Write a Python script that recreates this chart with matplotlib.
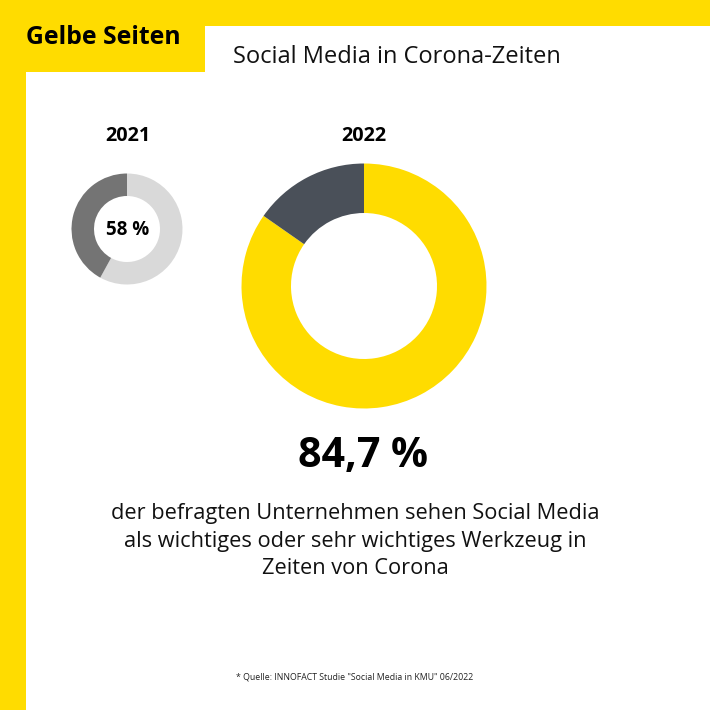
import numpy as np
import matplotlib.pyplot as plt
from matplotlib.patches import Rectangle

plt.rcParams['font.family'] = ['Open Sans', 'DejaVu Sans']

yellow = '#ffdc00'
# values of the two rings
share_2021 = np.array([58, 42])
share_2022 = np.array([84.7, 15.3])

fig, ax = plt.subplots(figsize=(7.1, 7.1), dpi=100)
ax.set_position([0, 0, 1, 1])

# yellow frame
ax.add_patch(Rectangle((0, 0), 26, 710, color=yellow, lw=0))
ax.add_patch(Rectangle((0, 684), 710, 26, color=yellow, lw=0))
ax.add_patch(Rectangle((0, 638), 204.5, 72, color=yellow, lw=0))

ax.pie(share_2021, colors=['#d9d9d9', '#747474'], startangle=90, counterclock=False,
       radius=55.5, center=(127, 481), wedgeprops=dict(width=22.5, lw=0), frame=True)
ax.pie(share_2022, colors=[yellow, '#4a5059'], startangle=90, counterclock=False,
       radius=122.5, center=(364, 424), wedgeprops=dict(width=49.5, lw=0), frame=True)

ax.set_xlim(0, 710)
ax.set_ylim(0, 710)
ax.axis('off')

ax.text(26, 672, 'Gelbe Seiten', fontsize=17.8, fontweight='bold', color='black', va='center', ha='left')
ax.text(233, 653, 'Social Media in Corona-Zeiten', fontsize=17, color='#111111', va='center', ha='left')
ax.text(128, 574, '2021', fontsize=14.3, fontweight='bold', color='black', va='center', ha='center')
ax.text(364, 574, '2022', fontsize=14.3, fontweight='bold', color='black', va='center', ha='center')
ax.text(128, 480, '58 %', fontsize=13.5, fontweight='bold', color='black', va='center', ha='center')
ax.text(363, 254, '84,7 %', fontsize=29.6, fontweight='bold', color='black', va='center', ha='center')

ax.text(355, 197, 'der befragten Unternehmen sehen Social Media', fontsize=15.7, color='#111111', va='center', ha='center')
ax.text(355, 169, 'als wichtiges oder sehr wichtiges Werkzeug in', fontsize=15.7, color='#111111', va='center', ha='center')
ax.text(355, 141, 'Zeiten von Corona', fontsize=15.7, color='#111111', va='center', ha='center')

ax.text(355, 33, '* Quelle: INNOFACT Studie "Social Media in KMU" 06/2022', fontsize=6.3, color='#222222', va='center', ha='center')

plt.savefig('out.png', dpi=100)
